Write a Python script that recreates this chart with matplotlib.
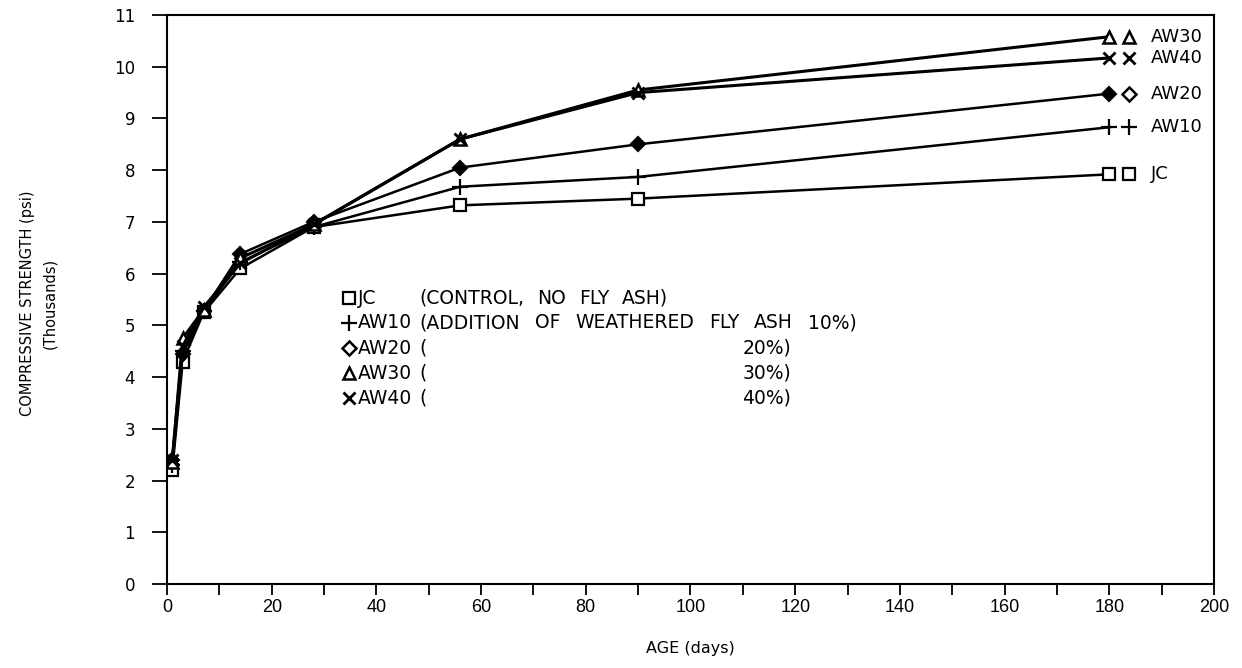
import matplotlib
matplotlib.use("Agg")
import matplotlib.pyplot as plt
from matplotlib.lines import Line2D
from matplotlib.ticker import MultipleLocator

plt.rcParams['font.family'] = ['DejaVu Sans']

# ---- data ----
age_days = [1, 3, 7, 14, 28, 56, 90, 180]
jc   = [2.20, 4.30, 5.25, 6.10, 6.90, 7.32, 7.45, 7.92]
aw10 = [2.30, 4.50, 5.28, 6.22, 6.90, 7.68, 7.87, 8.83]
aw20 = [2.40, 4.45, 5.28, 6.38, 7.00, 8.05, 8.50, 9.48]
aw30 = [2.35, 4.75, 5.30, 6.30, 6.95, 8.60, 9.55, 10.58]
aw40 = [2.40, 4.60, 5.35, 6.20, 6.95, 8.60, 9.50, 10.17]

series_names = ["JC", "AW10", "AW20", "AW30", "AW40"]
series_vals = [jc, aw10, aw20, aw30, aw40]
legend_desc = ["(CONTROL, NO FLY ASH)",
               "(ADDITION OF WEATHERED FLY ASH 10%)",
               "(", "(", "("]
legend_pct = ["", "", "20%)", "30%)", "40%)"]

# ---- styles ----
styles = {
    "JC":   dict(marker='s', ms=8, mfc='white', mec='black', mew=1.6),
    "AW10": dict(marker='+', ms=11, mfc='black', mec='black', mew=1.6),
    "AW20": dict(marker='D', ms=7, mfc='black', mec='black', mew=1.5),
    "AW30": dict(marker='^', ms=8, mfc='white', mec='black', mew=1.8),
    "AW40": dict(marker='x', ms=9, mfc='black', mec='black', mew=2.0),
}
label_marker = {
    "JC":   dict(marker='s', ms=8, mfc='white', mec='black', mew=1.6),
    "AW10": dict(marker='+', ms=11, mfc='black', mec='black', mew=1.6),
    "AW20": dict(marker='D', ms=7, mfc='white', mec='black', mew=1.8),
    "AW30": dict(marker='^', ms=8, mfc='white', mec='black', mew=1.8),
    "AW40": dict(marker='x', ms=9, mfc='black', mec='black', mew=2.0),
}

W, H = 1242, 668
fig = plt.figure(figsize=(W / 100, H / 100), dpi=100)
ax = fig.add_axes([167 / W, 1 - 584 / H, (1214 - 167) / W, (584 - 15) / H])

for name, vals in zip(series_names, series_vals):
    lw = 2.2 if name in ("AW30", "AW40") else 1.8
    ax.plot(age_days, vals, color='black', lw=lw, **styles[name])
    # end-of-line label marker + name
    ax.plot([183.8], [vals[-1]], color='black', lw=0, clip_on=False, **label_marker[name])
    ax.text(188, vals[-1], name, fontsize=13, va='center', ha='left')

ax.set_xlim(0, 200)
ax.set_ylim(0, 11)
ax.xaxis.set_major_locator(MultipleLocator(20))
ax.xaxis.set_minor_locator(MultipleLocator(10))
ax.yaxis.set_major_locator(MultipleLocator(1))
ax.tick_params(axis='x', which='both', direction='out', length=8, width=1.3,
               labelsize=13, pad=3)
ax.tick_params(axis='y', which='major', direction='out', length=11, width=1.3,
               labelsize=12, pad=12)
for lab in ax.get_xticklabels():
    lab.set_fontfamily(['Liberation Sans'])
for sp in ax.spines.values():
    sp.set_linewidth(1.5)

ax.set_xlabel("AGE (days)", fontsize=11.5, labelpad=18)
fig.text(28 / W, 1 - 303 / H, "COMPRESSIVE STRENGTH (psi)", rotation=90,
         ha='center', va='center', fontsize=10.5)
fig.text(50 / W, 1 - 303 / H, "(Thousands)", rotation=90,
         ha='center', va='center', fontsize=10.5)

# ---- in-plot legend block ----
renderer = fig.canvas.get_renderer()
LEG_FS = 13.5


def justified(words, x0, x1, fy):
    """Place words so that they span from pixel x0 to x1 (wide plotter look)."""
    arts = [fig.text(0, fy, w, fontsize=LEG_FS, va='center', ha='left') for w in words]
    widths = [a.get_window_extent(renderer).width for a in arts]
    gap = (x1 - x0 - sum(widths)) / max(len(words) - 1, 1)
    x = x0
    for a, w in zip(arts, widths):
        a.set_x(x / W)
        x += w + gap


leg_y = [298, 323, 348, 373, 398]
desc_x0 = 419
desc_x1 = {"JC": 668, "AW10": 857}
for name, desc, pct, yy in zip(series_names, legend_desc, legend_pct, leg_y):
    fy = 1 - yy / H
    m = Line2D([349 / W], [fy], transform=fig.transFigure, color='black', lw=0,
               **label_marker[name])
    fig.add_artist(m)
    fig.text(358 / W, fy, name, fontsize=LEG_FS, va='center', ha='left')
    if name in desc_x1:
        justified(desc.split(" "), desc_x0, desc_x1[name], fy)
    else:
        fig.text(desc_x0 / W, fy, desc, fontsize=LEG_FS, va='center', ha='left')
    if pct:
        fig.text(791 / W, fy, pct, fontsize=LEG_FS, va='center', ha='right')

fig.savefig("out.png", dpi=100)
